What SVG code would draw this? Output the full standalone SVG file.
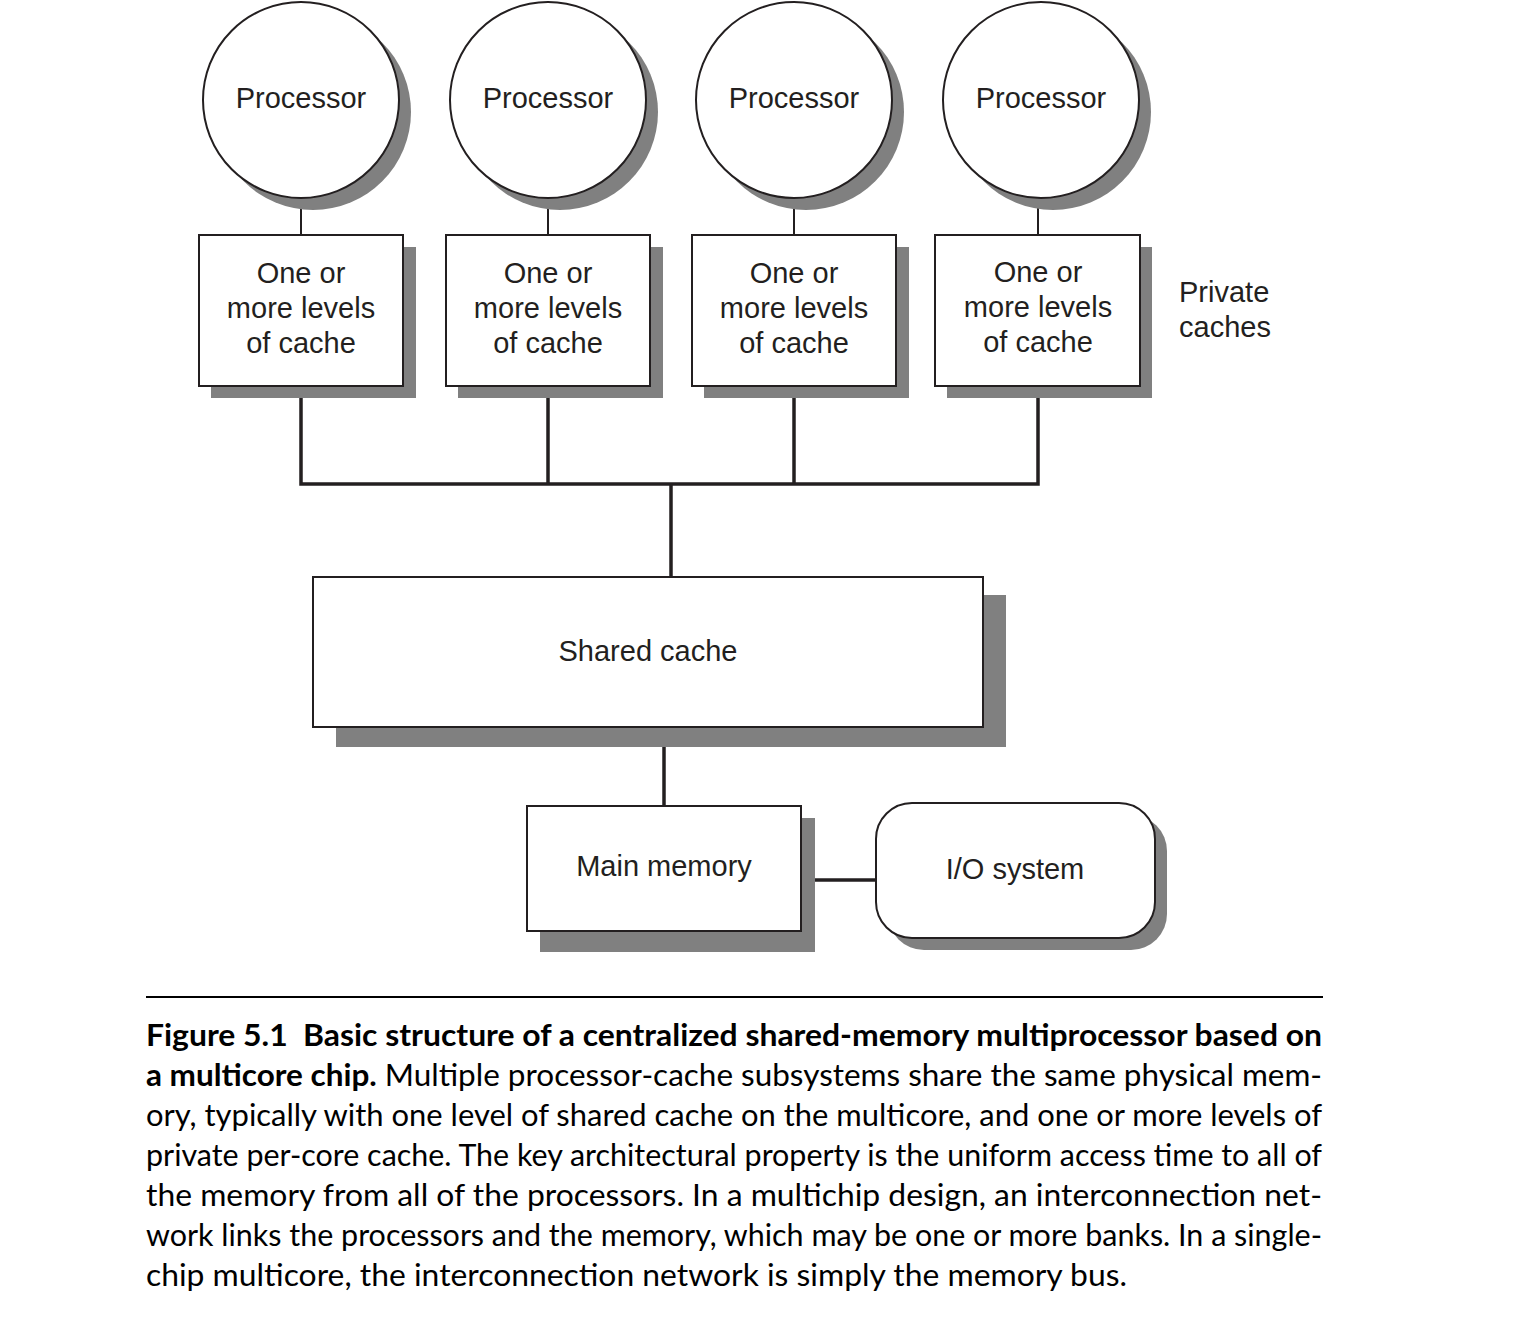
<svg xmlns="http://www.w3.org/2000/svg" width="1516" height="1342" viewBox="0 0 1516 1342">
<style>
.sh{fill:#808080;stroke:none}
.nd{fill:#fff;stroke:#231f20;stroke-width:2}
.lb{font-family:"Liberation Sans",Arial,sans-serif;font-size:29px;fill:#231f20;text-anchor:middle}
.pl{font-family:"Liberation Sans",Arial,sans-serif;font-size:29px;fill:#231f20}
.thin{stroke:#231f20;stroke-width:2;fill:none}
.thick{stroke:#231f20;stroke-width:3.5;fill:none}
.cap{font-family:Lato,"Open Sans",sans-serif;font-size:31px;fill:#000}
.b{font-weight:bold}
</style>
<rect width="1516" height="1342" fill="#fff"/>
<g id="connectors">
<line class="thin" x1="301" y1="198" x2="301" y2="236"/>
<line class="thin" x1="548" y1="198" x2="548" y2="236"/>
<line class="thin" x1="794" y1="198" x2="794" y2="236"/>
<line class="thin" x1="1038" y1="198" x2="1038" y2="236"/>
<polyline class="thick" points="301,386 301,484 1038,484 1038,386"/>
<line class="thick" x1="548" y1="386" x2="548" y2="484"/>
<line class="thick" x1="794" y1="386" x2="794" y2="484"/>
<line class="thick" x1="671" y1="484" x2="671" y2="577"/>
<line class="thick" x1="664" y1="747" x2="664" y2="806"/>
<line class="thick" x1="815" y1="880" x2="876" y2="880"/>
</g>
<g id="proc1"><circle class="sh" cx="313" cy="112" r="98"/><circle class="nd" cx="301" cy="100" r="98"/><text class="lb" x="301" y="108">Processor</text></g>
<g id="proc2"><circle class="sh" cx="560" cy="112" r="98"/><circle class="nd" cx="548" cy="100" r="98"/><text class="lb" x="548" y="108">Processor</text></g>
<g id="proc3"><circle class="sh" cx="806" cy="112" r="98"/><circle class="nd" cx="794" cy="100" r="98"/><text class="lb" x="794" y="108">Processor</text></g>
<g id="proc4"><circle class="sh" cx="1053" cy="112" r="98"/><circle class="nd" cx="1041" cy="100" r="98"/><text class="lb" x="1041" y="108">Processor</text></g>
<g id="cache1"><rect class="sh" x="211" y="247" width="205" height="151"/><rect class="nd" x="199" y="235" width="204" height="151"/>
<text class="lb" x="301" y="283">One or</text><text class="lb" x="301" y="318">more levels</text><text class="lb" x="301" y="353">of cache</text></g>
<g id="cache2"><rect class="sh" x="458" y="247" width="205" height="151"/><rect class="nd" x="446" y="235" width="204" height="151"/>
<text class="lb" x="548" y="283">One or</text><text class="lb" x="548" y="318">more levels</text><text class="lb" x="548" y="353">of cache</text></g>
<g id="cache3"><rect class="sh" x="704" y="247" width="205" height="151"/><rect class="nd" x="692" y="235" width="204" height="151"/>
<text class="lb" x="794" y="283">One or</text><text class="lb" x="794" y="318">more levels</text><text class="lb" x="794" y="353">of cache</text></g>
<g id="cache4"><rect class="sh" x="947" y="247" width="205" height="151"/><rect class="nd" x="935" y="235" width="205" height="151"/>
<text class="lb" x="1038" y="282">One or</text><text class="lb" x="1038" y="317">more levels</text><text class="lb" x="1038" y="352">of cache</text></g>
<g id="private-label"><text class="pl" x="1179" y="302">Private</text><text class="pl" x="1179" y="337">caches</text></g>
<g id="shared"><rect class="sh" x="336" y="595" width="670" height="152"/><rect class="nd" x="313" y="577" width="670" height="150"/><text class="lb" x="648" y="661">Shared cache</text></g>
<g id="mainmem"><rect class="sh" x="540" y="818" width="275" height="134"/><rect class="nd" x="527" y="806" width="274" height="125"/><text class="lb" x="664" y="876">Main memory</text></g>
<g id="io"><rect class="sh" x="888" y="815" width="279" height="135" rx="36"/><rect class="nd" x="876" y="803" width="279" height="135" rx="36"/><text class="lb" x="1015" y="879">I/O system</text></g>
<g id="caption">
<line x1="146" y1="997" x2="1323" y2="997" stroke="#000" stroke-width="2"/>
<text class="cap b" x="146" y="1046" textLength="1176" lengthAdjust="spacingAndGlyphs">Figure 5.1&#160; Basic structure of a centralized shared-memory multiprocessor based on</text>
<text class="cap" x="146" y="1086" textLength="1176" lengthAdjust="spacingAndGlyphs"><tspan class="b">a multicore chip.</tspan> Multiple processor-cache subsystems share the same physical mem-</text>
<text class="cap" x="146" y="1126" textLength="1176" lengthAdjust="spacingAndGlyphs">ory, typically with one level of shared cache on the multicore, and one or more levels of</text>
<text class="cap" x="146" y="1166" textLength="1176" lengthAdjust="spacingAndGlyphs">private per-core cache. The key architectural property is the uniform access time to all of</text>
<text class="cap" x="146" y="1206" textLength="1176" lengthAdjust="spacingAndGlyphs">the memory from all of the processors. In a multichip design, an interconnection net-</text>
<text class="cap" x="146" y="1246" textLength="1176" lengthAdjust="spacingAndGlyphs">work links the processors and the memory, which may be one or more banks. In a single-</text>
<text class="cap" x="146" y="1286" textLength="981" lengthAdjust="spacingAndGlyphs">chip multicore, the interconnection network is simply the memory bus.</text>
</g>
</svg>
